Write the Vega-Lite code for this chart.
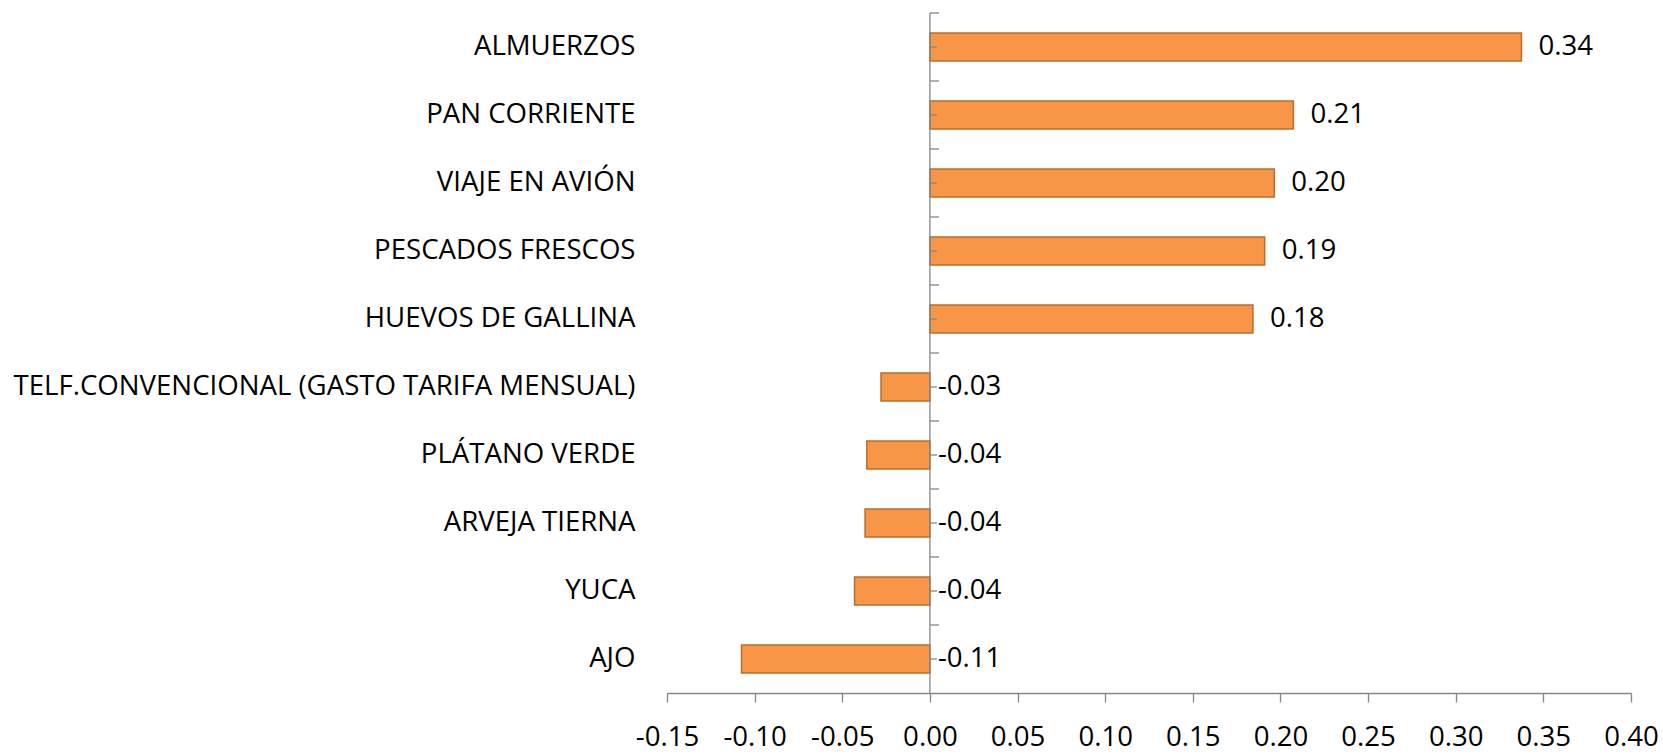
{
  "$schema": "https://vega.github.io/schema/vega-lite/v6.json",
  "width": 964,
  "height": 680,
  "autosize": "none",
  "padding": {"left": 667, "top": 13, "right": 32, "bottom": 63},
  "background": "white",
  "config": {
    "view": {"stroke": null},
    "font": "Open Sans",
    "locale": {"number": {"decimal": ".", "thousands": ",", "grouping": [3], "currency": ["$", ""], "minus": "-"}},
    "axis": {"labelFont": "Open Sans", "labelFontSize": 27.6, "labelColor": "#000000", "grid": false}
  },
  "data": {
    "values": [
      {"cat": "ALMUERZOS", "value": 0.3375},
      {"cat": "PAN CORRIENTE", "value": 0.2074},
      {"cat": "VIAJE EN AVIÓN", "value": 0.1965},
      {"cat": "PESCADOS FRESCOS", "value": 0.191},
      {"cat": "HUEVOS DE GALLINA", "value": 0.1843},
      {"cat": "TELF.CONVENCIONAL (GASTO TARIFA MENSUAL)", "value": -0.0279},
      {"cat": "PLÁTANO VERDE", "value": -0.036},
      {"cat": "ARVEJA TIERNA", "value": -0.037},
      {"cat": "YUCA", "value": -0.043},
      {"cat": "AJO", "value": -0.1075}
    ]
  },
  "layer": [
    {
      "mark": {"type": "bar", "height": {"band": 0.41}, "fill": "#F79646", "stroke": "#B96D2E", "strokeWidth": 1.5},
      "encoding": {
        "y": {"field": "cat", "type": "nominal", "sort": null, "scale": {"paddingInner": 0, "paddingOuter": 0},
              "axis": {"title": null, "domain": false, "ticks": false, "tickSize": 0, "labelPadding": 32, "labelLimit": 700}},
        "x": {"field": "value", "type": "quantitative", "scale": {"domain": [-0.15, 0.4], "nice": false, "zero": false},
              "axis": {"title": null, "values": [-0.15, -0.1, -0.05, 0, 0.05, 0.1, 0.15, 0.2, 0.25, 0.3, 0.35, 0.4],
                       "format": ".2f", "domainColor": "#868686", "domainWidth": 1.3, "tickColor": "#868686", "tickWidth": 1.3,
                       "tickSize": 9, "labelPadding": 21, "labelFlush": false, "labelOverlap": false}}
      }
    },
    {
      "data": {"values": [{}]},
      "mark": {"type": "rule", "color": "#868686", "strokeWidth": 1.3},
      "encoding": {"x": {"datum": 0}}
    },
    {
      "mark": {"type": "rule", "color": "#868686", "strokeWidth": 1.3},
      "encoding": {
        "x": {"datum": 0},
        "x2": {"datum": 0.0052},
        "y": {"field": "cat", "type": "nominal", "sort": null, "bandPosition": 0}
      }
    },
    {
      "mark": {"type": "rule", "color": "#868686", "strokeWidth": 1.3},
      "encoding": {
        "x": {"datum": 0},
        "x2": {"datum": 0.004},
        "y": {"field": "cat", "type": "nominal", "sort": null}
      }
    },
    {
      "transform": [{"filter": "datum.value > 0"}],
      "mark": {"type": "text", "align": "left", "baseline": "middle", "dx": 17, "fontSize": 27.6, "font": "Open Sans", "color": "#000000"},
      "encoding": {
        "x": {"field": "value", "type": "quantitative"},
        "y": {"field": "cat", "type": "nominal", "sort": null},
        "text": {"field": "value", "type": "quantitative", "format": ".2f"}
      }
    },
    {
      "transform": [{"filter": "datum.value < 0"}],
      "mark": {"type": "text", "align": "left", "baseline": "middle", "dx": 8, "fontSize": 27.6, "font": "Open Sans", "color": "#000000"},
      "encoding": {
        "x": {"datum": 0},
        "y": {"field": "cat", "type": "nominal", "sort": null},
        "text": {"field": "value", "type": "quantitative", "format": ".2f"}
      }
    }
  ]
}
